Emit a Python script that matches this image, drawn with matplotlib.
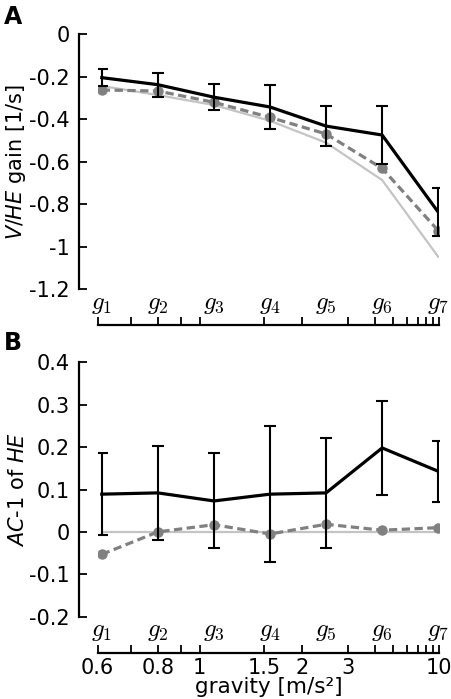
import numpy as np
import matplotlib
matplotlib.use("Agg")
import matplotlib.pyplot as plt
from matplotlib.transforms import blended_transform_factory

plt.rcParams['font.family'] = ['DejaVu Sans']
plt.rcParams['mathtext.fontset'] = 'custom'
plt.rcParams['mathtext.rm'] = 'DejaVu Sans'
plt.rcParams['mathtext.it'] = 'DejaVu Sans:italic'

# ---- data ----
g_labels = ['$g_1$', '$g_2$', '$g_3$', '$g_4$', '$g_5$', '$g_6$', '$g_7$']
gravity = [0.611, 0.798, 1.087, 1.565, 2.447, 4.353, 9.81]

gain_mean = [-0.204, -0.237, -0.296, -0.342, -0.432, -0.474, -0.837]
gain_err = [0.039, 0.056, 0.060, 0.104, 0.093, 0.136, 0.112]
gain_model = [-0.262, -0.267, -0.320, -0.391, -0.469, -0.631, -0.924]
gain_ref = [-0.243, -0.286, -0.333, -0.407, -0.510, -0.686, -1.047]

ac_mean = [0.089, 0.092, 0.073, 0.089, 0.092, 0.198, 0.143]
ac_err = [0.096, 0.111, 0.112, 0.160, 0.129, 0.110, 0.072]
ac_model = [-0.053, 0.000, 0.017, -0.005, 0.018, 0.004, 0.010]
ac_ref = [0, 0, 0, 0, 0, 0, 0]

xticks = [0.6, 0.7, 0.8, 0.9, 1, 1.5, 2, 3, 4, 5, 6, 7, 8, 9, 10]
xticklabels = ['0.6', '', '0.8', '', '1', '1.5', '2', '3', '', '', '', '', '', '', '10']

W, H = 452, 699
fig = plt.figure(figsize=(W / 100, H / 100), dpi=100)

fwd = lambda g: -1.0 / np.sqrt(np.clip(g, 1e-9, None))
inv = lambda y: 1.0 / np.square(y)

FS = 15


def make_ax(top_px, bot_px):
    left, right = 97.7, 439.3
    ax = fig.add_axes([left / W, 1 - bot_px / H, (right - left) / W, (bot_px - top_px) / H])
    ax.set_xscale('function', functions=(fwd, inv))
    ax.set_xlim(0.6, 10)
    for s in ['top', 'right']:
        ax.spines[s].set_visible(False)
    ax.spines['left'].set_position(('outward', 13.5))
    ax.spines['bottom'].set_position(('outward', 26))
    ax.spines['bottom'].set_bounds(0.6, 10)
    for s in ['left', 'bottom']:
        ax.spines[s].set_linewidth(1.6)
    ax.set_xticks(xticks)
    ax.xaxis.set_minor_locator(matplotlib.ticker.NullLocator())
    ax.tick_params(axis='both', direction='in', length=6, width=1.3, labelsize=FS)
    ax.tick_params(axis='x', pad=4)
    ax.tick_params(axis='y', pad=6.5)
    trans = blended_transform_factory(ax.transData, ax.transAxes)
    for g, lab in zip(gravity, g_labels):
        ax.text(g, -0.058, lab, transform=trans, ha='center', va='center', fontsize=18,
                math_fontfamily='cm')
    return ax


# ---- Panel A ----
axA = make_ax(34.3, 289.3)
axA.plot(gravity, gain_ref, color='#c4c4c4', lw=1.6, zorder=1)
axA.plot(gravity, gain_model, color='#808080', lw=2.3, ls=(0, (2.6, 1.4)), marker='o', ms=6.5, zorder=2)
axA.errorbar(gravity, gain_mean, yerr=gain_err, color='black', lw=2.3, elinewidth=1.5,
             capsize=4, capthick=1.5, zorder=3)
axA.set_ylim(-1.2, 0)
axA.set_yticks([0, -0.2, -0.4, -0.6, -0.8, -1, -1.2])
axA.set_yticklabels(['0', '-0.2', '-0.4', '-0.6', '-0.8', '-1', '-1.2'])
axA.set_xticklabels([''] * len(xticks))
axA.set_ylabel(r'$\mathit{V/HE}$ gain [1/s]', fontsize=FS, labelpad=1)

# ---- Panel B ----
axB = make_ax(362.3, 616.7)
axB.plot(gravity, ac_ref, color='#c4c4c4', lw=1.6, zorder=1)
axB.plot(gravity, ac_model, color='#808080', lw=2.3, ls=(0, (2.6, 1.4)), marker='o', ms=6.5, zorder=2)
axB.errorbar(gravity, ac_mean, yerr=ac_err, color='black', lw=2.3, elinewidth=1.5,
             capsize=4, capthick=1.5, zorder=3)
axB.set_ylim(-0.2, 0.4)
axB.set_yticks([0.4, 0.3, 0.2, 0.1, 0, -0.1, -0.2])
axB.set_yticklabels(['0.4', '0.3', '0.2', '0.1', '0', '-0.1', '-0.2'])
axB.set_xticklabels(xticklabels)
axB.set_xlabel('gravity [m/s²]', fontsize=15.5, labelpad=-1)
axB.set_ylabel(r'$\mathit{AC}$-1 of $\mathit{HE}$', fontsize=FS, labelpad=1)

fig.text(4 / W, 1 - 5 / H, 'A', fontsize=17, fontweight='bold', va='top', ha='left')
fig.text(4 / W, 1 - 331 / H, 'B', fontsize=17, fontweight='bold', va='top', ha='left')

fig.savefig('out.png', dpi=100)
